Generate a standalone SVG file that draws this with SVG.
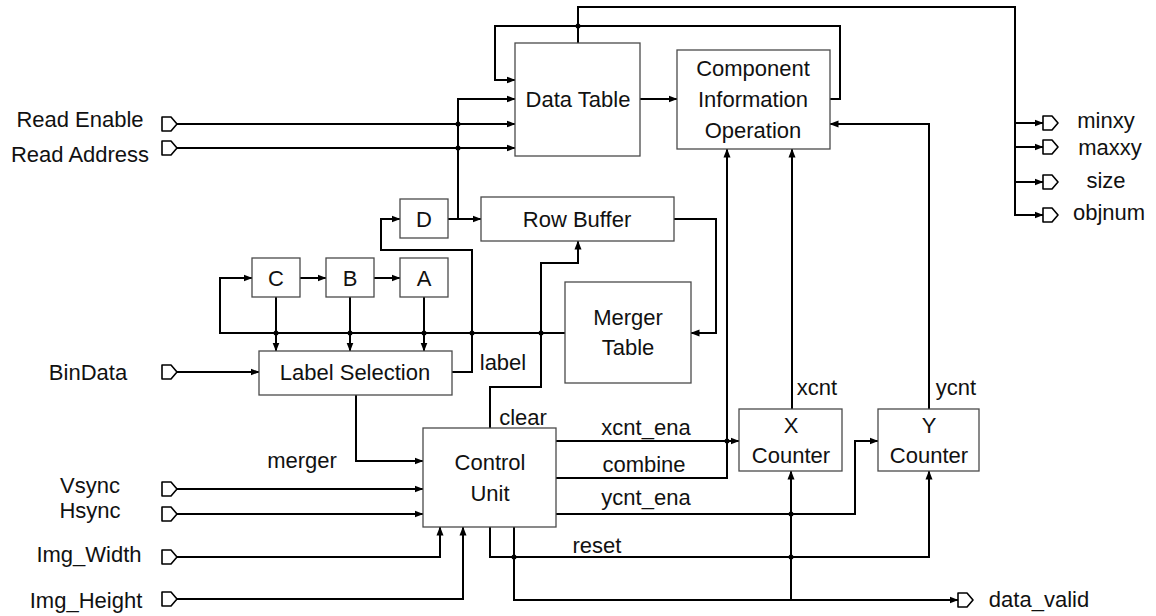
<svg xmlns="http://www.w3.org/2000/svg" width="1156" height="616" viewBox="0 0 1156 616">
  <style>
    .box { fill: #ffffff; stroke: #4a4a4a; stroke-width: 1.3; }
    .wire { fill: none; stroke: #000000; stroke-width: 2; }
    .arr { marker-end: url(#arrow); }
    .dot { fill: #000000; }
    .port { fill: #ffffff; stroke: #000000; stroke-width: 1.6; stroke-linejoin: round; }
    text { font-family: "Liberation Sans", Arial, sans-serif; font-size: 22px; fill: #111111; }
    .c { text-anchor: middle; }
  </style>
  <defs>
    <marker id="arrow" markerWidth="9" markerHeight="8" refX="8.5" refY="4" orient="auto" markerUnits="userSpaceOnUse">
      <path d="M0,0.5 L9,4 L0,7.5 Z" fill="#000000"/>
    </marker>
    <!-- I/O port glyph, anchored at its left-middle point -->
    <path id="port" class="port" d="M0,-7 H9 L15,0 L9,7 H0 Z"/>
  </defs>

  <!-- connectors -->
  <g id="connectors">
    <!-- outputs bus from Data Table -->
    <path class="wire arr" d="M578,43 V7 H1015 V215 H1043"/>
    <path class="wire arr" d="M1015,123 H1043"/>
    <path class="wire arr" d="M1015,147 H1043"/>
    <path class="wire arr" d="M1015,182 H1043"/>
    <!-- feedback from Component Information Operation to Data Table -->
    <path class="wire arr" d="M830,99 H840 V26 H495 V80 H515"/>
    <circle class="dot" cx="578" cy="26" r="2.5"/>
    <!-- Data Table to Component Information Operation -->
    <path class="wire arr" d="M640,99 H677"/>
    <!-- read inputs -->
    <path class="wire arr" d="M177,124 H515"/>
    <path class="wire arr" d="M177,148 H515"/>
    <circle class="dot" cx="458" cy="124" r="2.5"/>
    <circle class="dot" cx="458" cy="148" r="2.5"/>
    <!-- D outputs -->
    <path class="wire arr" d="M448,219 H481"/>
    <path class="wire arr" d="M458,219 V99 H515"/>
    <!-- label from Label Selection to D -->
    <path class="wire arr" d="M452,372 H472 V250 H381 V219 H400"/>
    <!-- C -> B -> A chain -->
    <path class="wire arr" d="M300,278 H326"/>
    <path class="wire arr" d="M374,278 H400"/>
    <!-- merger table bus back to C -->
    <path class="wire arr" d="M565,333 H220 V278 H252"/>
    <circle class="dot" cx="276" cy="333" r="2.5"/>
    <circle class="dot" cx="350" cy="333" r="2.5"/>
    <circle class="dot" cx="424" cy="333" r="2.5"/>
    <circle class="dot" cx="472" cy="333" r="2.5"/>
    <circle class="dot" cx="541" cy="333" r="2.5"/>
    <!-- C, B, A into Label Selection -->
    <path class="wire arr" d="M276,297 V351"/>
    <path class="wire arr" d="M350,297 V351"/>
    <path class="wire arr" d="M424,297 V351"/>
    <!-- BinData -->
    <path class="wire arr" d="M177,372 H259"/>
    <!-- Row Buffer to Merger Table -->
    <path class="wire arr" d="M674,219 H716 V333 H691"/>
    <!-- merger -->
    <path class="wire arr" d="M356,395 V461 H423"/>
    <!-- sync inputs -->
    <path class="wire arr" d="M177,489 H423"/>
    <path class="wire arr" d="M177,514 H423"/>
    <!-- image size inputs -->
    <path class="wire arr" d="M177,557 H440 V527"/>
    <path class="wire arr" d="M177,599 H463 V527"/>
    <!-- clear -->
    <path class="wire arr" d="M490,428 V387 H541 V263 H578 V241"/>
    <!-- xcnt_ena -->
    <path class="wire arr" d="M556,441 H739"/>
    <circle class="dot" cx="727" cy="441" r="2.5"/>
    <!-- combine -->
    <path class="wire arr" d="M556,478 H727 V149"/>
    <!-- ycnt_ena -->
    <path class="wire arr" d="M556,514 H855 V441 H878"/>
    <circle class="dot" cx="791" cy="514" r="2.5"/>
    <!-- reset -->
    <path class="wire arr" d="M490,527 V557 H929 V471"/>
    <circle class="dot" cx="514" cy="557" r="2.5"/>
    <circle class="dot" cx="791" cy="557" r="2.5"/>
    <!-- data_valid -->
    <path class="wire arr" d="M514,527 V600 H958"/>
    <path class="wire arr" d="M791,600 V471"/>
    <!-- xcnt / ycnt -->
    <path class="wire arr" d="M792,409 V149"/>
    <path class="wire arr" d="M929,409 V124 H830"/>
  </g>

  <!-- input ports -->
  <g id="in-read-enable"><use href="#port" x="162" y="124"/><text class="c" x="80" y="127">Read Enable</text></g>
  <g id="in-read-address"><use href="#port" x="162" y="148"/><text class="c" x="80" y="162">Read Address</text></g>
  <g id="in-bindata"><use href="#port" x="162" y="372"/><text class="c" x="88" y="380">BinData</text></g>
  <g id="in-vsync"><use href="#port" x="162" y="489"/><text class="c" x="90" y="493">Vsync</text></g>
  <g id="in-hsync"><use href="#port" x="162" y="514"/><text class="c" x="90" y="518">Hsync</text></g>
  <g id="in-img-width"><use href="#port" x="162" y="557"/><text class="c" x="89" y="562">Img_Width</text></g>
  <g id="in-img-height"><use href="#port" x="162" y="599"/><text class="c" x="86" y="608">Img_Height</text></g>

  <!-- output ports -->
  <g id="out-minxy"><use href="#port" x="1043" y="123"/><text class="c" x="1106" y="128">minxy</text></g>
  <g id="out-maxxy"><use href="#port" x="1043" y="147"/><text class="c" x="1110" y="155">maxxy</text></g>
  <g id="out-size"><use href="#port" x="1043" y="182"/><text class="c" x="1106" y="188">size</text></g>
  <g id="out-objnum"><use href="#port" x="1043" y="215"/><text class="c" x="1109" y="220">objnum</text></g>
  <g id="out-data-valid"><use href="#port" x="958" y="600"/><text class="c" x="1039" y="607">data_valid</text></g>

  <!-- blocks -->
  <g id="data-table"><rect class="box" x="515" y="43" width="125" height="113"/><text class="c" x="578" y="107">Data Table</text></g>
  <g id="component-info">
    <rect class="box" x="677" y="50" width="153" height="99"/>
    <text class="c" x="753" y="76">Component</text>
    <text class="c" x="753" y="107">Information</text>
    <text class="c" x="753" y="138">Operation</text>
  </g>
  <g id="reg-d"><rect class="box" x="400" y="199" width="48" height="39"/><text class="c" x="424" y="227">D</text></g>
  <g id="row-buffer"><rect class="box" x="481" y="197" width="193" height="44"/><text class="c" x="577" y="227">Row Buffer</text></g>
  <g id="reg-c"><rect class="box" x="252" y="258" width="48" height="39"/><text class="c" x="276" y="286">C</text></g>
  <g id="reg-b"><rect class="box" x="326" y="258" width="48" height="39"/><text class="c" x="350" y="286">B</text></g>
  <g id="reg-a"><rect class="box" x="400" y="258" width="48" height="39"/><text class="c" x="424" y="286">A</text></g>
  <g id="merger-table">
    <rect class="box" x="565" y="282" width="126" height="101"/>
    <text class="c" x="628" y="325">Merger</text>
    <text class="c" x="628" y="355">Table</text>
  </g>
  <g id="label-selection"><rect class="box" x="259" y="351" width="193" height="44"/><text class="c" x="355" y="380">Label Selection</text></g>
  <g id="control-unit">
    <rect class="box" x="423" y="428" width="133" height="99"/>
    <text class="c" x="490" y="470">Control</text>
    <text class="c" x="490" y="501">Unit</text>
  </g>
  <g id="x-counter">
    <rect class="box" x="739" y="409" width="103" height="62"/>
    <text class="c" x="791" y="433">X</text>
    <text class="c" x="791" y="463">Counter</text>
  </g>
  <g id="y-counter">
    <rect class="box" x="878" y="409" width="101" height="62"/>
    <text class="c" x="929" y="433">Y</text>
    <text class="c" x="929" y="463">Counter</text>
  </g>

  <!-- signal labels -->
  <g id="signal-labels">
    <text class="c" x="503" y="370">label</text>
    <text class="c" x="302" y="468">merger</text>
    <text class="c" x="523" y="425">clear</text>
    <text class="c" x="646" y="435">xcnt_ena</text>
    <text class="c" x="644" y="472">combine</text>
    <text class="c" x="646" y="505">ycnt_ena</text>
    <text class="c" x="597" y="553">reset</text>
    <text class="c" x="817" y="395">xcnt</text>
    <text class="c" x="956" y="395">ycnt</text>
  </g>
</svg>
